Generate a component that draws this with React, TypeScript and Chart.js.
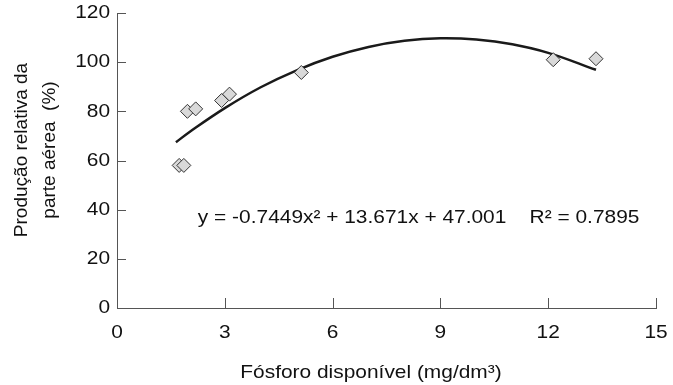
import { useEffect, useRef } from "react";
import { Chart, registerables } from "chart.js";

Chart.register(...registerables);

const phosphorus = [1.73, 1.86, 1.96, 2.19, 2.91, 3.13, 5.13, 12.14, 13.33];
const relativeYield = [58, 58, 80, 81, 84.4, 87, 95.8, 101, 101.4];
const trendX = [1.64, 2, 3, 4, 5, 6, 7, 8, 9, 10, 11, 12, 13.33];
const trendY = [67.4, 71.4, 81.3, 89.8, 96.7, 102.2, 106.2, 108.7, 109.7, 109.2, 107.3, 103.8, 96.9];
const xTickValues = [0, 3, 6, 9, 12, 15];
const yTickValues = [0, 20, 40, 60, 80, 100, 120];
const equationText = "y = -0.7449x\u00b2 + 13.671x + 47.001    R\u00b2 = 0.7895";
const xTitle = "F\u00f3sforo dispon\u00edvel (mg/dm\u00b3)";
const yTitleLines = ["Produ\u00e7\u00e3o relativa da", "parte a\u00e9rea  (%)"];

const FONT = "'Liberation Sans', Arial, sans-serif";
const STRETCH = 1.1;

function drawText(ctx: CanvasRenderingContext2D, text: string, x: number, y: number, align: CanvasTextAlign) {
  ctx.save();
  ctx.translate(x, y);
  ctx.scale(STRETCH, 1);
  ctx.textAlign = align;
  ctx.fillText(text, 0, 0);
  ctx.restore();
}

const overlayPlugin = {
  id: "overlay",
  afterDraw(chart: any) {
    const { ctx, chartArea } = chart;
    const x = chart.scales.x;
    const y = chart.scales.y;
    ctx.save();
    ctx.strokeStyle = "#555";
    ctx.lineWidth = 1;
    xTickValues.forEach((v) => {
      const px = Math.round(x.getPixelForValue(v)) + 0.5;
      ctx.beginPath();
      ctx.moveTo(px, chartArea.bottom);
      ctx.lineTo(px, chartArea.bottom - 10);
      ctx.stroke();
    });
    yTickValues.forEach((v) => {
      const py = Math.round(y.getPixelForValue(v)) + 0.5;
      ctx.beginPath();
      ctx.moveTo(chartArea.left, py);
      ctx.lineTo(chartArea.left + 9, py);
      ctx.stroke();
    });

    ctx.fillStyle = "#111";
    ctx.font = `19px ${FONT}`;
    ctx.textBaseline = "middle";

    xTickValues.forEach((v) => {
      drawText(ctx, String(v), x.getPixelForValue(v), chartArea.bottom + 25, "center");
    });
    yTickValues.forEach((v) => {
      drawText(ctx, String(v), chartArea.left - 7, y.getPixelForValue(v), "right");
    });

    drawText(ctx, equationText, x.getPixelForValue(2.25), y.getPixelForValue(36.6), "left");
    drawText(ctx, xTitle, 371, 373, "center");

    ctx.translate(36, 150);
    ctx.rotate(-Math.PI / 2);
    ctx.textAlign = "center";
    ctx.fillText(yTitleLines[0], 0, -14);
    ctx.fillText(yTitleLines[1], 0, 14);
    ctx.restore();
  },
};

export default function App() {
  const ref = useRef<HTMLCanvasElement | null>(null);
  useEffect(() => {
    if (!ref.current) return;
    const chart = new Chart(ref.current, {
      type: "scatter",
      data: {
        datasets: [
          {
            label: "Dados",
            data: phosphorus.map((v, i) => ({ x: v, y: relativeYield[i] })),
            pointStyle: "rectRot",
            pointRadius: 7,
            pointBackgroundColor: "#d9d9d9",
            pointBorderColor: "#333",
            pointBorderWidth: 1,
            showLine: false,
          },
          {
            label: "Tendência",
            data: trendX.map((v, i) => ({ x: v, y: trendY[i] })),
            showLine: true,
            borderColor: "#1a1a1a",
            borderWidth: 2.5,
            pointRadius: 0,
            tension: 0.4,
            fill: false,
          },
        ],
      },
      options: {
        animation: false,
        responsive: false,
        layout: { padding: { top: 13, right: 17, left: 0, bottom: 0 } },
        plugins: { legend: { display: false }, tooltip: { enabled: false } },
        scales: {
          x: {
            type: "linear",
            min: 0,
            max: 15,
            afterFit: (s: any) => {
              s.height = 77;
            },
            ticks: { stepSize: 3, display: false },
            grid: { display: true, drawOnChartArea: false, drawTicks: false },
            border: { display: true, color: "#555", width: 1 },
            title: { display: false },
          },
          y: {
            type: "linear",
            min: 0,
            max: 120,
            afterFit: (s: any) => {
              s.width = 117;
            },
            ticks: { stepSize: 20, display: false },
            grid: { display: true, drawOnChartArea: false, drawTicks: false },
            border: { display: true, color: "#555", width: 1 },
            title: { display: false },
          },
        },
      },
      plugins: [overlayPlugin],
    });
    return () => chart.destroy();
  }, []);
  return (
    <div style={{ position: "absolute", left: 0, top: 0, width: 673, height: 385, background: "#fff" }}>
      <canvas ref={ref} width={673} height={385} />
    </div>
  );
}
